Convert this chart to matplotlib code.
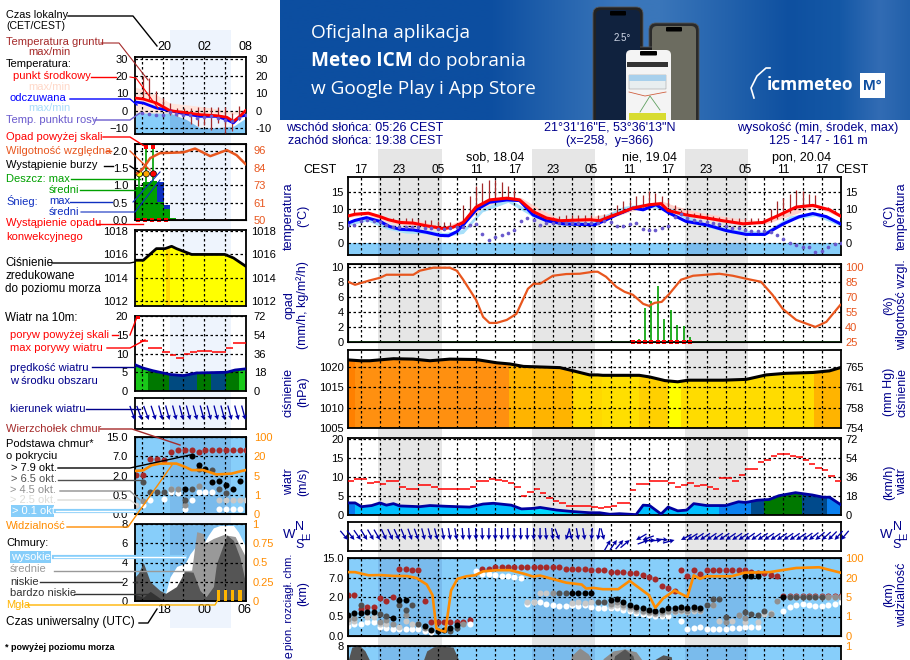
import numpy as np
import matplotlib
matplotlib.use("Agg")
import matplotlib.pyplot as plt
from matplotlib.lines import Line2D
from matplotlib.patches import Rectangle, FancyBboxPatch

plt.rcParams['font.family'] = ['Liberation Sans', 'DejaVu Sans']
plt.rcParams['font.size'] = 8
plt.rcParams['ytick.labelsize'] = 8

W, H = 910, 660
NAVY = '#00008b'
BROWN = '#a52a2a'
SKY = '#87cefa'
ORANGE = '#ff8c00'
RH_COL = '#e8561e'
DEW = '#6a5acd'
GREEN = '#00a000'

# ---- main meteogram data (hours counted from friday 00:00 CEST) ----
red_h = [15,16.1,18.2,20,21.3,23.1,25.2,27.3,29.9,31.4,33,35,37.1,39.8,41.8,43.9,46,48.1,52.75,54.3,55.9,57.4,59.5,62.1,63.9,65,67.8,71,73.5,76.7,79.8,82.4,85,87.6,90.2,91.9]
red_t = [8,8.5,8.8,7.8,6.9,6.1,5.9,5.1,4.3,4.7,6.1,10.6,12.7,13.2,12.7,9.3,7.4,6.6,6.9,6.6,7.8,8.8,10.3,11.3,11.6,9.6,8.3,7.4,6.6,5.7,6.1,8.3,10.6,11.1,9.8,8]
blue_h = [15,16.1,17.9,20,21.5,23.1,25.2,27.3,29.4,30.7,32,33,35,37.1,39.8,41.8,43.9,46,48.6,53.5,54.8,56.9,59.5,61.1,63.1,65,67.8,71,74.1,77.2,80.1,82.9,85.5,87.6,89.7,91.9]
blue_t = [5.9,6.7,7.5,6.4,4.9,4.1,3.9,3.2,2.3,2.2,3.4,5.4,9.8,12,12.7,12.5,8.3,6.6,5.7,5.4,6.4,8.3,10.3,9.8,11.3,9,6.4,5.4,3.7,2.6,2.6,5.6,7.8,8.7,7.8,5.7]
pink_h = [15,18,22,26,30,33,36,39,42,45,48,53,56,60,64,66,70,76,80,84,88,92]
pink_hi = [8.6,9.4,7,6.6,4.9,7,11.4,13.8,13.4,10,7.2,7.8,8.8,11,12.4,11,9,7.2,6.5,9.6,11.6,8.6]
pink_lo = [7.6,8.3,5.7,5.2,3.9,5.7,10.2,12.8,12.2,8.8,6.2,5.6,7.4,9.8,10.9,9.2,7.8,6.1,5.6,8,10.6,7.6]
lblue_h = [15,18,21,24,27,30,33,36,40,44,48,53,58,62,66,70,75,80,84,88,92]
lblue_lo = [5.2,6.6,4.2,3,2.8,1.9,2.9,9.2,12,7.6,5.3,5.2,9.6,10.6,8.8,5.2,2.9,2.2,6.8,8,5]
dew_t = [5.4,5.4,6.4,6.7,6.4,6.1,5.4,4.9,4.9,4.9,4.9,4.7,4.6,4.4,4.1,4.1,4.4,4.7,4.9,5.4,5.7,2.7,.9,1.8,2.5,2.9,3.8,6.4,7.4,6.9,5.4,5.9,5.9,5.9,5.9,5.9,5.9,5.9,5.9,
         5.9,6.4,6.2,5.2,5.2,5.7,5.9,4.3,4,3.9,4.4,5.1,7.6,8.6,7.4,6.9,6.4,6.1,5.9,5.7,5.1,4.6,4.4,3.9,3.6,3.6,3.6,3.3,2.5,1.2,.2,-.5,-1.1,-1.1,-2.5,-2.4,-1.1,-.3,0]
ground_h = np.r_[16,17,20,22:33, 33:92]
ground_hi = [10,9.3,7.8,7.4,7.2,7.3,7.3,7,6.7,6.7,6.4,6.2,6.1,5.9,
             11.3,13.7,16.9,17.6,18.6,18.6,17.9,16.9,15.7,12.7,10.8,9.3,8.3,7.8,7.8,8,8.3,8.3,8.3,8.3,8.3,
             8.3,8.5,9.3,11.3,12.5,12.7,13.9,14.2,15.2,14.7,13.9,12.9,11.3,9.8,9.6,9,8.8,8.3,8.1,7.8,7.6,7.5,7.5,7.4,7.4,7.4,7.4,10,12.3,13.2,14.5,15.5,15.4,14.5,14.2,11,10.6,9.6]
ground_lo = [8.5,8.7,7.5,6.5,6,6,6,5.9,5.5,5.4,5.2,5,4.8,4.6,
             6.2,8,10,11.5,12.3,12.8,13,13,12.8,12.2,10.5,9,8.2,7.5,7,6.8,6.6,6.6,6.6,6.6,6.6,
             6.6,6.6,7.6,8.2,9,9.6,10.2,10.6,11,11.5,11.6,10.5,9.6,9.2,8.8,8.4,8,7.6,7.4,7.2,6.8,6.4,6.2,5.9,5.8,5.8,5.8,6.2,7,8,9,10,10.6,10.8,11,10.8,10,9.2]

rh_h = [15,16.1,18.2,20,21,23.1,25.2,26.2,28.3,30.9,32,33,35,36.1,37.1,38.2,39.8,41.3,43.1,44,45,47,49.1,51.2,53.3,54,55.3,56.9,58.2,59.5,61.1,62,62.9,64,65.2,67,68.9,73,75.1,77.2,79.5,81.3,82.9,85,88,89.7,91.9]
rh = [85,82,86,89,92,92,92,96,99,99,96,87,67,50,44,44,47,53,78,83,83,91,92.7,93,95,95,90,80,75,72,63,61,64,65,73,87,91,93,91,88,85,72,58,47,40,45,62]
rain_h = [60.45,61.43,62.4,63.4,64.35,65.4,66.4,67.5,68.4]
rain = [.44,4.5,5.5,7.4,3.1,4.3,2.2,2.1,.6]
conv_h = [59.5,60.45,61.43,62.4,63.4,64.35,65.4,66.4,67.5,68.4]

pres_h = [15,16.9,18.4,22.1,25.2,27.8,30.9,35,38.2,40.3,42.4,48.1,50.2,52.75,54,54.8,60.5,62.1,64.5,66.5,68.1,73.6,77.2,80.3,83.4,87.6,90.2,91.9]
pres = [1021.8,1021.6,1021.6,1022.1,1022,1021.6,1022,1021.9,1021.1,1020.8,1020.2,1019.9,1019.1,1018.1,1018.1,1018,1018,1017.6,1016.7,1016.4,1016.8,1016.8,1017,1018.1,1018.5,1018.7,1019.1,1019.9]
pres_edges = [15,16.1,40.1,50.2,54.7,60.5,64.95,67,87.85,92]
pres_cols = ['#ff8000','#ff9010','#ffb400','#ffd800','#ffdf00','#ffd000','#ffff00','#ffdc00','#ffb400']

wind_h = [15,16.1,17.1,18.7,20,21,22.1,23.1,26.2,27.8,30.4,34,36.1,37.7,40.5,42.1,43.9,45,47.6,50.2,52.75,54.3,55.9,57.4,60,61.1,62.1,63.9,65,66.5,67.9,69,71,74,76,77.1,78.9,80.8,82.3,84.9,87.5,89.2,90.2,91.9]
wind = [3.2,3.2,2.2,2.5,3.2,2.6,3,2.4,2.2,2.5,2.3,2.1,2.9,3.1,2.6,1.6,1.75,2,1.3,.9,.6,.6,.2,.35,.1,2.6,2.5,.25,2.1,1.1,1.3,3,2.5,2.5,3.5,3.3,3.9,4.1,5.1,5.9,5.3,4.7,4.7,2.8]
wind_edges = [15,16.1,41.8,60.55,73,77.9,79.9,85.9,89.85,92]
wind_cols = ['#0a78f0','#00bfff','#00d8ff','#00bfff','#0a80f0','#004a8c','#007800','#004a8c','#0a80f0']
gust = [9,9.6,9.4,8.4,8.6,8.1,8.9,8.9,7.3,7,7,7.8,7.8,7.3,7,7,7,7,6.8,7.4,9.1,9.1,9.4,9.2,8.9,8.4,7.5,4.9,6,7,5.7,4.4,3.6,3.3,2.5,2.5,2.5,2.3,2.2,1.8,2,2.5,3.1,3.1,6.5,8.1,8.1,8.9,8.9,9.1,8.4,7.3,7.8,8.4,7.6,7.8,7.5,7,9.9,9.9,8.9,10.5,12.2,12.2,14.1,14.6,15.5,16,16,15.7,15.4,14.6,13.6,12.5,12,10.4,8.9]
wind_dir = [320,322,325,328,330,330,335,335,335,338,340,340,345,345,345,350,350,350,355,355,358,358,0,0,0,358,358,358,0,0,0,355,355,340,20,345,350,350,5,10,345,210,215,220,230,60,70,250,265,265,275,255,62,58,56,56,56,56,56,56,56,56,55,55,56,56,56,56,56,56,56,55,52,50,48,45,42,40]

# cloud base (km) and visibility (km), hourly dots
top_h = np.r_[15:28, 28:35, 36:93]
top_km = [2.5,2.4,1.1,1.25,1.25,1.9,1.7,2,10.6,10.6,10.1,10.1,1.7,.36,.36,.36,.36,.36,.36,.4,
          10.6,10.6,11.3,11.3,11.3,11.3,11.3,11.3,11.3,11.3,11.3,11.3,11.3,10.6,10.6,10.6,10.6,10.1,10.1,10.1,
          9.2,9.2,9.2,9,8.8,8.2,7.4,6.5,4.8,4.2,3.65,9.9,7.6,9.9,8.4,9.9,9.9,9.9,9.9,9.9,9.9,9.9,9.4,9,8.8,8,7.6,2.2,2.2,2.2,2.2,2.2,2.2,2.2,2.2,2.2,2.2]
white_h = np.r_[15:29, 34:66, 67:80, 83:93]
white_km = [.26,.31,.31,.37,.35,.24,.2,.18,.18,.18,.18,.18,.14,.11,
            .32,9.6,8.4,8.3,7.9,7.6,7.6,7.1,6.8,1.5,1.58,1.58,1.5,1.42,1.27,1.27,1.37,1.27,1.37,1.25,1.12,1.12,1.12,1.16,1,.92,.74,.67,.6,.55,.53,.53,
            .38,.18,.2,.24,.18,.18,.18,.18,.2,.21,.23,.22,.24,
            .92,1.25,1.42,1.5,1.37,1.3,1.3,1.42,1.5,1.58]
light_h = np.r_[15,16,18,19,20,21,23,24,25,26,43,44,45,46,50,51,52,53,56:71,72,73,75,77,79,80,81,84:92]
light_km = [.35,.38,.5,.5,.31,.32,.24,.38,.32,.32,1.6,1.65,3,3,1.55,1.6,1.55,1.6,1.3,1.4,1.25,1.1,.95,.85,.75,.7,.7,.85,.85,.9,.85,.95,.9,1.4,.38,.38,.35,.37,.67,.8,2.05,2.05,2.05,2.05,2.05,2.05,2.05,2.05]
grey_h = np.r_[15,16,20,21,22,24,27,33,47,56:71,72,74,76,77,81,82,90,91,92]
grey_km = [.43,.45,.37,.41,.32,.6,.2,.32,3,1.5,1.6,1.35,1.2,1.08,.95,.84,.8,.84,.95,.95,1,.95,1.08,1,1.4,.37,.6,.45,.7,1.7,2.05,2.05,2.05]
dark_h = np.r_[17,20,21,23,24,25,26,31,32,48,49,54,55,71,72,73,74,77,78,79,80,84:90]
dark_km = [1.35,.7,.55,1.37,1,1.4,.32,.14,.2,3,3,1.58,1.63,1.4,1.85,1.85,.5,.81,.67,.6,.92,2.1,2.1,2.1,2.1,2.1,2.1]
black_h = np.r_[15:20, 22,23,24, 27:33, 50:54, 56:71, 77,78,79, 83]
black_km = [.6,.74,.74,.86,.86,.47,1.8,1.8,.26,.15,.14,.15,.2,.28,3,3,3,3,1.76,1.88,1.58,1.37,1.25,1.12,1,.95,1,1.12,1.12,1.2,1.12,1.25,1.16,7.5,7.5,7.5,2.1]
vis_h = [15,16.1,18.2,20,22.1,24.2,25.7,27.3,28.2,28.8,29.6,30.2,31.1,32.1,33.5,34.8,36.1,38.2,40.3,42.4,43.9,45,47.6,49.1,51.5,52.2,53.3,54.8,57.2,59,62,63,64.2,66,68,69,70,71,74.9,77,80.8,85,88.6,91.9]
vis = [42,42,29,30,26.5,26,19.6,14.6,6.4,.39,.27,.22,10,19,25,29,45,50,50,36,24,28,18,16,14.6,11.5,12,11,11,17.4,6.4,2.8,4.7,10,5,29,19,25,25,40,42,59,62,40]

cl_dark_h = [15,15.6,16.9,17.65,18.4,19.2,22.1,23.1,24.2,26.2,27.3,28.3,29.4,31.4,32.2,33,48.5,55.9,56.65,58.2,59.5,60.3,62.9,64.2,65.5,66,67]
cl_dark = [6.5,7.9,8,7.5,6.5,5,5,6.6,5,5.5,7.5,7.9,8,7.9,6.7,4,0,5,7,7.7,7,5,6.6,7.1,6.9,4,0]
cl_grey_h = [48.5,49.1,49.9,51.2,52.5,53.3,54,54.85,56.4,58.2,60,61,61.6,62.5]
cl_grey = [0,4,7,7.8,7.2,6.4,4.5,6.7,7.5,7.7,7.4,6.5,4,0]

# ---- left legend chart data (example panel, 16:00 - 08:00) ----
lr_h = [16,17.2,19.1,21.07,23,25.4,27.8,29.3,30.25,31.2,32]
lr_t = [7.3,6.7,4.4,0,-1,-2.3,-2.9,-3.8,-6.2,-3.3,0]
lb_t = [5,4.4,1.5,0,-1.7,-3.3,-3.3,-5.2,-7.1,-3.3,-2.7]
lp_h = [16,19.1,21.07,25.4,30.25,32]
lp_hi = [13.7,9.2,4.4,2.5,-.4,.6]
ll_h = [16,21.07,23.5,25.4,27.8,30.25,32]
ll_lo = [-1.4,-1.4,-5.3,-10,-10,-9,-4.4]
ldew_h = np.arange(17, 33)
ldew_t = [-1.3,-1.7,-2.3,-2.7,-1,-1.7,-2.3,-2.3,-4.2,-3.7,-3.3,-4.2,-5.6,-6.2,-4.2,-2.3]
lground_h = [17.1,18.05,19,20.1,21.07,22.1,23.1,24.1,25.1,26,27,28,29,30,31]
lground_hi = [20.2,18.8,11.2,7.3,4.4,1.5,1.5,1.5,2.1,2.1,2.1,2.1,2.1,-1.3,2.9]
lground_lo = [6.7,6.3,4.4,.6,-2.3,-3.3,-2.3,-7.5,-8.7,-8.1,-11,-7.1,-12.9,-11.9,-5.2]
lrh_h = [16.34,17.2,18.2,19.6,23,24.7,26.9,29.3,30.7,32]
lrh = [80.7,84,90.7,94,94.5,97,92,96,92.7,86.8]
lrain_h = [16,17.2,18.2,19.2,20.2,21.1]
lrain_w = [1.2,1,1,1,.9,.9]
lrain = [.95,1.1,1.13,.53,.33,.07]
lsnow = [0,0,0,.56,.1,0]
lmax_h = [16.63,17.64,18.66]
lmax = [1.3,2.1,2.1]
lmax_lo = [.95,1.1,1.13]
lstorm_cols = ['#ffff00','#ffa500','#ff0000']
lstorm = [1.33,1.33,1.33]
lover_h = [17.64,18.66]
lover = [2.1,2.1]
lconv_h = [16.5,17.5,18.5,19.5,20.5]
lpres_h = [16,17.2,19.1,20.35,21.3,22,24.2,29,30.25,32]
lpres = [1015.5,1015.5,1016.5,1016.5,1016.7,1016.5,1016,1016,1015.7,1015]
lpres_edges = [16,20.44,21.07,32]
lpres_cols = ['#ffff00','#ffd800','#ffff00']
lwind_h = [16,17.2,18.6,21.07,23,24.9,29.3,30.5,32]
lwind = [7,6.1,5.4,4.4,4.1,4.8,5,5.6,5.9]
lwind_edges = [16,17.93,20.93,25,27,29.15,31.07,32]
lwind_cols = ['#19c819','#007800','#004a80','#007800','#004a80','#007800','#19c819']
lgust_x0 = [16.7,17.93,19.86,21.07,21.93,23.14,23.97,24.94,27.1,29.15,30.16]
lgust_x1 = [17.93,19.86,21.07,21.93,23.14,23.97,24.94,27.1,29.15,30.16,32]
lgust = [13.4,11.6,10.5,9.6,8.8,9.8,10.5,10.8,10.5,11.6,12.9]
ldir_h = np.arange(16, 33)
ldir = [340,340,340,342,345,345,345,345,345,345,345,345,345,345,345,345,345]
ltop_h = np.r_[16.2,17.2,18.2,19.2,20.2,21.2,22.2,23.2,24.2,25.2,26.2,27.2,28.2,29.2,30.2,31.2,32]
ltop = [2.1,2.1,6.3,6.3,6,8.8,9.7,9.7,9.7,8.8,9.7,9.7,9.7,9.7,9.7,9.7,9.7]
lwhite_h = [17.2,18.2,20.2,21.2,22.2,23.2,24.2,25.2,26.2,27.2,28.2,29.2,30.2,31.2]
lwhite = [.23,.36,.39,.68,.6,.13,.36,.68,.73,.73,.13,.13,.13,.13]
llight_h = [16.2,21.2,28.2,29.2,30.2,31.2,32]
llight = [.23,.92,.36,.36,.36,.36,.36]
lgrey_h = [17.2,21.2,22.2,23.2,25.2]
lgrey = [.35,.92,.92,.23,1.2]
ldark_h = [17.2,18.2,19.2,20.2,23.2,24.2,25.2,27.2,28.2,29.2]
ldark = [1.5,.68,.68,.68,.36,.92,3.8,3.4,.92,.6]
lblack_h = [23.2,24.2,25.2,26.2,27.2,28.2,29.2,30.2,31.2]
lblack = [.92,7,4.85,3.8,1.5,1.55,1.25,.92,1.55]
lvis_h = [16,17.2,18.4,19.6,22,23.25,24.2,25.9,27.8,30,31,32]
lvis = [8.6,9,13,14.3,14.3,11.7,9.2,9.2,5.8,6.5,7.9,9.2]
lc_white_h = [16,20.44,21.07,22.04,23.25,23.97,24.94,25.9,26.63,27.35,28.3,30.25,30.98,31.7,32]
lc_white = [0,.8,2.5,3.6,3.9,4.9,5.8,5.95,6.85,7.6,7.85,7.85,7.15,6.1,5.6]
lc_grey_h = [21.6,23.1,24.2,24.94,25.9,26.14,27.35,28.8,30.5,32]
lc_grey = [0,3.1,3.2,7.2,7,6,6.5,6.9,6.7,4.6]
lc_low_h = [16,16.5,17.2,18.2,19.6,20.44,22,23.25,24.4,25.4,26.3,27.35,27.8,29.3,30.25,31.2,32]
lc_low = [2.5,2.9,4,2,1.1,.8,1.5,3.1,3,1.1,.45,1.5,3.9,6.85,6.3,4.5,1.9]
lc_vlow_h = [16,17.2,18.2,19.6,20.35]
lc_vlow = [.7,.4,1,.3,0]
lfog_h = [28.08,29.1,30.1,31.2]
lfog = [1.14,1.14,1.14,1.14]

# ---- helpers, everything is placed in pixels of the final image ----
fig = plt.figure(figsize=(W/100, H/100), dpi=100, facecolor='white')

def panel(x0, y0, x1, y1, xlim, ylim):
    ax = fig.add_axes([x0/W, 1-y1/H, (x1-x0)/W, (y1-y0)/H])
    ax.patch.set_visible(False)
    ax.set_xlim(*xlim)
    ax.set_ylim(*ylim)
    for s in ax.spines.values():
        s.set_linewidth(1.3)
    ax.set_axisbelow(False)
    ax.tick_params(length=0, labelbottom=False, labelleft=False)
    return ax

def grid(ax, xt, yt, pad=3, ylab=None):
    ax.set_xticks(xt)
    ax.set_yticks(yt)
    ax.grid(True, color='k', ls=(0, (2, 2)), lw=0.9)
    ax.tick_params(axis='y', labelleft=True, pad=pad)
    if ylab is not None:
        ax.set_yticklabels(ylab)

def right(ax, ticks, labels, color='k', pad=3, fs=8):
    rax = ax.twinx()
    rax.set_ylim(ax.get_ylim())
    rax.set_yticks(ticks)
    rax.set_yticklabels(labels, color=color, fontsize=fs)
    rax.tick_params(length=0, pad=pad)
    rax.spines[:].set_visible(False)
    return rax

def strips(ax, poly, edges, cols):
    path = poly.get_paths()[0]
    for a, b, c in zip(edges[:-1], edges[1:], cols):
        sp = ax.axvspan(a, b, color=c, lw=0, zorder=1)
        sp.set_clip_path(path, poly.get_transform())

def dots(ax, x, y, col, s=19):
    ax.scatter(x, y, s=s, color=col, lw=0, zorder=4)

def txt(x, y, s, col='k', ha='left', size=9, rot=0, **kw):
    return fig.text(x/W, 1-y/H, s, color=col, ha=ha, va='center', fontsize=size, rotation=rot, **kw)

def ltxt(x, y, s, col='k', size=8, **kw):
    return txt(x, y, s, col, size=size, **kw)

def leader(pts, col='k', lw=1):
    xs = [p[0]/W for p in pts]
    ys = [1-p[1]/H for p in pts]
    fig.add_artist(Line2D(xs, ys, color=col, lw=lw, transform=fig.transFigure, zorder=5))

def km_scale(ax, ticks):
    lev = [0, 1, 2, 3, 4]
    ax.set_yscale('function', functions=(lambda v: np.interp(v, ticks, lev),
                                         lambda v: np.interp(v, lev, ticks)))
    ax.set_ylim(ticks[0], ticks[-1])

def wind_arrows(ax, x, d, y, scale=12):
    d = np.radians(d)
    ax.quiver(x, np.full(len(x), y), -np.sin(d), -np.cos(d), pivot='tip', angles='uv',
              units='dots', scale_units='dots', scale=1/scale, width=1.3,
              headwidth=3.8, headlength=3.8, headaxislength=3.4, color='#0000a8', zorder=4, clip_on=False)

# ---- banner ----
ban = fig.add_axes([280/W, 1-120/H, 630/W, 120/H])
ban.axis('off')
gx = np.arange(280, 911)
stops = [280, 490, 620, 660, 790, 840, 880, 910]
rr = np.interp(gx, stops, [12, 12, 58, 58, 14, 20, 50, 34])
gg = np.interp(gx, stops, [78, 78, 118, 118, 80, 88, 108, 96])
bb = np.interp(gx, stops, [160, 160, 186, 186, 160, 166, 180, 170])
grad = np.dstack([rr, gg, bb]) / 255
ban.imshow(grad, extent=(280, 910, 120, 0), aspect='auto', zorder=0)
ban.set_xlim(280, 910)
ban.set_ylim(120, 0)
for px0, py0, px1, body, screen in [(593, 7, 643, '#222222', '#10223e'), (649, 23, 699, '#2a2a2a', '#6c6c60'), (623, 47, 674, '#1c1c1c', '#f4f4f4')]:
    ban.add_patch(FancyBboxPatch((px0+3, py0+3), px1-px0-6, 130, boxstyle='round,pad=3,rounding_size=7', fc=body, ec='#555555', lw=0.6, zorder=2))
    ban.add_patch(FancyBboxPatch((px0+4, py0+4), px1-px0-8, 130, boxstyle='round,pad=1,rounding_size=5', fc=screen, ec='none', zorder=3))
    ban.add_patch(FancyBboxPatch((px0+18, py0+5), px1-px0-36, 2.5, boxstyle='round,pad=1', fc='k', ec='none', zorder=4))
ban.add_patch(Rectangle((627, 62), 41, 5, fc='#333333', ec='none', zorder=4))
ban.add_patch(Rectangle((629, 75), 37, 14, fc='#e8eef0', ec='#888888', lw=0.3, zorder=4))
ban.add_patch(Rectangle((629, 75), 37, 6, fc='#a8d0ec', ec='none', zorder=4))
ban.add_patch(Rectangle((629, 113), 37, 7, fc='#d8dc30', ec='none', zorder=4))
ban.plot([629, 645, 666], [92, 96, 92], color='#d06040', lw=0.6, zorder=5)
ban.plot([640, 650, 660], [112, 96, 110], color='#60a060', lw=0.6, zorder=5)
ban.text(622, 38, '2.5°', color='#d0d8e8', fontsize=7, zorder=5, ha='center', va='center')
ban.text(311, 33, 'Oficjalna aplikacja', color='white', fontsize=13.7, family='Open Sans', va='center')
ban.text(311, 61.5, 'Meteo ICM', color='white', fontsize=13.7, family='Open Sans', fontweight='bold', va='center')
ban.text(418, 61.5, 'do pobrania', color='white', fontsize=13.7, family='Open Sans', va='center')
ban.text(311, 89.5, 'w Google Play i App Store', color='white', fontsize=13.7, family='Open Sans', va='center')
ban.text(767, 85, 'icmmeteo', color='white', fontsize=12.4, family='Open Sans', fontweight='bold', va='center')
ban.add_patch(Rectangle((860, 73), 25, 25, fc='white', ec='none', zorder=4))
ban.text(872.5, 86, 'M°', color='#0d4ea0', fontsize=11, fontweight='bold', ha='center', va='center', zorder=5)
ban.plot([754, 751, 757, 766, 770], [98, 88, 76, 68, 68], color='white', lw=1.2, zorder=4)

# ---- night bands behind the panels ----
MAIN_BANDS = [(378, 442), (532, 595), (685, 748)]
for a, b in MAIN_BANDS:
    fig.add_artist(Rectangle((a/W, 0), (b-a)/W, 1-149/H, fc='#e6e6e6', ec='none', transform=fig.transFigure, zorder=-1))
fig.add_artist(Rectangle((170/W, 1-628/H), 61/W, 598/H, fc='#eef4fd', ec='none', transform=fig.transFigure, zorder=-1))

def night_main(ax, ymax=1):
    for a, b in MAIN_BANDS:
        ax.axvspan(15+(a-348)/6.41, 15+(b-348)/6.41, ymax=ymax, color='#000060', alpha=0.09, lw=0, zorder=1.5)

def night_left(ax, clip=None):
    sp = ax.axvspan(21.07, 29.9, color='#000060', alpha=0.09, lw=0, zorder=1.5)
    if clip is not None:
        sp.set_clip_path(clip.get_paths()[0], clip.get_transform())

# ---- main panels ----
XM = (15, 92)
GM = np.arange(17, 92, 3)
HL = [f'{h % 24:02d}' if (h - 17) % 6 == 0 else '' for h in GM]

ax = panel(348, 177, 841, 255, XM, (-3.43, 19.4))
grid(ax, GM, [0, 5, 10, 15])
ax.tick_params(axis='x', labeltop=True, pad=0.5, labelsize=8.6)
ax.set_xticklabels(HL)
ax.axhspan(-3.43, 0, color=SKY, lw=0, zorder=1)
night_main(ax, ymax=3.43/22.83)
ax.fill_between(pink_h, pink_lo, pink_hi, color='#ffd2cc', lw=0, zorder=1.8)
ax.fill_between(lblue_h, lblue_lo, np.array(lblue_lo)+1.2, color='#a8e0fa', lw=0, zorder=1.9)
ax.vlines(ground_h, ground_lo, ground_hi, color=BROWN, lw=0.9, zorder=3)
ax.plot(blue_h, blue_t, color='#0000ff', lw=2.2, zorder=3.2)
ax.plot(red_h, red_t, color='#ff0000', lw=2.2, zorder=3.3)
dots(ax, np.arange(15, 15+len(dew_t)), dew_t, DEW, s=7)
right(ax, [0, 5, 10, 15], ['0', '5', '10', '15'])

ax = panel(348, 264, 841, 342, XM, (0, 10.35))
grid(ax, GM, [0, 2, 4, 6, 8, 10])
ax.vlines(rain_h, 0, rain, color=GREEN, lw=1.2, zorder=3)
ax.axhline(0, color=GREEN, lw=1, zorder=3)
ax.scatter(conv_h, np.zeros(len(conv_h)), marker='s', s=7, color='#ff0000', lw=0, zorder=4, clip_on=False)
rax = ax.twinx()
rax.set_ylim(25, 102.7)
rax.set_yticks([25, 40, 55, 70, 85, 100])
rax.tick_params(length=0, pad=3, labelcolor=RH_COL)
rax.plot(rh_h, rh, color=RH_COL, lw=1.6, zorder=3)

ax = panel(348, 350, 841, 428, XM, (1005, 1024.25))
grid(ax, GM, [1005, 1010, 1015, 1020])
poly = ax.fill_between(pres_h, 1005, pres, color='none', lw=0)
strips(ax, poly, pres_edges, pres_cols)
ax.plot(pres_h, pres, color='k', lw=2.2, zorder=3)
right(ax, [1005, 1010, 1015, 1020], ['754', '758', '761', '765'])

ax = panel(348, 438, 841, 515, XM, (0, 20.35))
grid(ax, GM, [0, 5, 10, 15, 20])
poly = ax.fill_between(wind_h, 0, wind, color='none', lw=0)
strips(ax, poly, wind_edges, wind_cols)
ax.plot(wind_h, wind, color='#0000a0', lw=2, zorder=3)
gh = np.arange(15, 15+len(gust))
ax.hlines(gust, gh, gh+1, color='#ff0000', lw=1.1, zorder=3)
right(ax, [0, 5, 10, 15, 20], ['0', '18', '36', '54', '72'])

ax = panel(348, 522, 841, 551, XM, (0, 1))
ax.set_xticks(GM)
ax.set_yticks([])
ax.grid(True, axis='x', color='k', ls=(0, (2, 2)), lw=0.9)
wind_arrows(ax, np.arange(15, 15+len(wind_dir)), wind_dir, 0.38)

ax = panel(348, 558, 841, 636, XM, (0, 15))
km_scale(ax, [0, .5, 2, 7, 15])
grid(ax, GM, [0, .5, 2, 7, 15], ylab=['0.0', '0.5', '2.0', '7.0', '15.0'])
ax.axhspan(0, 15, color=SKY, lw=0, zorder=1)
night_main(ax)
dots(ax, top_h, top_km, BROWN)
dots(ax, white_h, white_km, 'white')
dots(ax, light_h, light_km, '#c8c8c8')
dots(ax, grey_h, grey_km, '#909090')
dots(ax, dark_h, dark_km, '#505050')
dots(ax, black_h, black_km, 'k')
rax = ax.twinx()
km_scale(rax, [0, 1, 5, 20, 100])
rax.set_yticks([0, 1, 5, 20, 100])
rax.set_yticklabels(['0', '1', '5', '20', '100'], color=ORANGE, fontsize=8)
rax.tick_params(length=0, pad=3)
rax.plot(vis_h, vis, color=ORANGE, lw=1.9, zorder=5)

ax = panel(348, 646, 841, 724, XM, (0, 8))
grid(ax, GM, [8], ylab=['8'])
ax.axhspan(0, 8, color=SKY, lw=0, zorder=1)
night_main(ax)
ax.fill_between(cl_grey_h, 0, cl_grey, color='#8c8c8c', lw=0, zorder=1.7)
ax.fill_between(cl_dark_h, 0, cl_dark, color='#555555', lw=0, zorder=1.8)
right(ax, [8], ['1'], color=ORANGE)

# ---- left legend panels ----
XL = (16, 32)
GL = [17, 20, 23, 26, 29]

ax = panel(135, 57, 245.5, 134, XL, (-13.5, 31))
grid(ax, GL, [-10, 0, 10, 20, 30], pad=5)
sky_poly = ax.fill_between(ll_h, -13.5, ll_lo, color=SKY, lw=0, zorder=1.2)
ax.fill_between(lp_h, lp_hi, -2, color='#ffe4dc', lw=0, zorder=1.1)
night_left(ax, sky_poly)
ax.vlines(lground_h, lground_lo, lground_hi, color=BROWN, lw=0.9, zorder=3)
ax.plot(lr_h, lb_t, color='#0000ff', lw=2, zorder=3.2)
ax.plot(lr_h, lr_t, color='#ff0000', lw=2, zorder=3.3)
dots(ax, ldew_h, ldew_t, DEW, s=7)
right(ax, [-10, 0, 10, 20, 30], ['-10', '0', '10', '20', '30'], pad=7)

ax = panel(135, 144, 245.5, 220, XL, (0, 2.19))
grid(ax, GL, [0, .5, 1, 1.5, 2], pad=5, ylab=['0.0', '0.5', '1.0', '1.5', '2.0'])
ax.bar(lrain_h, lrain, width=lrain_w, align='edge', color=GREEN, lw=0, zorder=1)
ax.bar(lrain_h, lsnow, width=lrain_w, bottom=lrain, align='edge', color='#1030c0', lw=0, zorder=1)
ax.vlines(lmax_h, lmax_lo, lmax, color=GREEN, lw=1.2, zorder=3)
ax.scatter(lmax_h, lstorm, s=20, c=lstorm_cols, edgecolors='k', lw=0.5, zorder=5)
ax.scatter(lover_h, lover, marker='s', s=8, color='#ff0000', lw=0, zorder=5)
ax.scatter(lconv_h, np.zeros(5), marker='s', s=5, color='#ff0000', lw=0, zorder=5, clip_on=False)
rax = ax.twinx()
rax.set_ylim(50, 100)
rax.set_yticks([50, 61, 73, 84, 96])
rax.tick_params(length=0, pad=6, labelcolor=RH_COL)
rax.plot(lrh_h, lrh, color=RH_COL, lw=1.8, zorder=3)

ax = panel(135, 230, 245.5, 306, XL, (1011.57, 1018.1))
grid(ax, GL, [1012, 1014, 1016, 1018], pad=5)
poly = ax.fill_between(lpres_h, 1011.57, lpres, color='none', lw=0)
strips(ax, poly, lpres_edges, lpres_cols)
ax.plot(lpres_h, lpres, color='k', lw=2, zorder=3)
right(ax, [1012, 1014, 1016, 1018], ['1012', '1014', '1016', '1018'], pad=4)

ax = panel(135, 316, 245.5, 391, XL, (0, 20))
grid(ax, GL, [0, 5, 10, 15, 20], pad=5)
poly = ax.fill_between(lwind_h, 0, lwind, color='none', lw=0)
strips(ax, poly, lwind_edges, lwind_cols)
ax.plot(lwind_h, lwind, color='#0000a0', lw=2, zorder=3)
ax.hlines(lgust, lgust_x0, lgust_x1, color='#ff0000', lw=1.1, zorder=3)
ax.scatter([16.5], [19.8], marker='s', s=8, color='#ff0000', lw=0, zorder=5)
right(ax, [0, 5, 10, 15, 20], ['0', '18', '36', '54', '72'], pad=6)

ax = panel(135, 398, 245.5, 429, XL, (0, 1))
ax.set_xticks(GL)
ax.set_yticks([])
ax.grid(True, axis='x', color='k', ls=(0, (2, 2)), lw=0.9)
wind_arrows(ax, ldir_h, ldir, 0.29, scale=15)

ax = panel(135, 437, 245.5, 514, XL, (0, 15))
km_scale(ax, [0, .5, 2, 7, 15])
grid(ax, GL, [0, .5, 2, 7, 15], pad=5, ylab=['0.0', '0.5', '2.0', '7.0', '15.0'])
ax.axhspan(0, 15, color=SKY, lw=0, zorder=1)
night_left(ax)
dots(ax, ltop_h, ltop, BROWN)
dots(ax, lwhite_h, lwhite, 'white')
dots(ax, llight_h, llight, '#c8c8c8')
dots(ax, lgrey_h, lgrey, '#909090')
dots(ax, ldark_h, ldark, '#505050')
dots(ax, lblack_h, lblack, 'k')
rax = ax.twinx()
km_scale(rax, [0, 1, 5, 20, 100])
rax.set_yticks([0, 1, 5, 20, 100])
rax.set_yticklabels(['0', '1', '5', '20', '100'], color=ORANGE, fontsize=8)
rax.tick_params(length=0, pad=6)
rax.plot(lvis_h, lvis, color=ORANGE, lw=1.9, zorder=5)

ax = panel(135, 524, 245.5, 601, XL, (0, 8))
grid(ax, GL, [0, 2, 4, 6, 8], pad=5)
ax.axhspan(0, 8, color=SKY, lw=0, zorder=1)
night_left(ax)
ax.fill_between(lc_white_h, 0, lc_white, color='white', lw=0, zorder=1.6)
ax.fill_between(lc_grey_h, 0, lc_grey, color='#999999', lw=0, zorder=1.7)
ax.fill_between(lc_low_h, 0, lc_low, color='#555555', lw=0, zorder=1.8)
ax.fill_between(lc_vlow_h, 0, lc_vlow, color='#333333', lw=0, zorder=1.9)
ax.bar(lfog_h, lfog, width=0.45, color='#ffb400', lw=0, zorder=3)
right(ax, [0, 2, 4, 6, 8], ['0', '0.25', '0.5', '0.75', '1'], color=ORANGE, pad=5)

# ---- main chart texts ----
txt(286, 128, 'wschód słońca: 05:26 CEST', NAVY)
txt(288, 141, 'zachód słońca: 19:38 CEST', NAVY)
txt(610, 128, '21°31\'16"E, 53°36\'13"N', NAVY, ha='center')
txt(610, 141, '(x=258,  y=366)', NAVY, ha='center')
txt(898, 128, 'wysokość (min, środek, max)', NAVY, ha='right')
txt(818, 141, '125 - 147 - 161 m', NAVY, ha='center')
txt(495, 158, 'sob, 18.04', 'k', ha='center')
txt(649, 158, 'nie, 19.04', 'k', ha='center')
txt(802, 158, 'pon, 20.04', 'k', ha='center')
txt(320, 170, 'CEST', ha='center')
txt(852, 170, 'CEST', ha='center')

for y, a, b, c, d in [(216, 'temperatura', '(°C)', '(°C)', 'temperatura'),
                      (305, 'opad', '(mm/h, kg/m²/h)', '(%)', 'wilgotność wzgl.'),
                      (392, 'ciśnienie', '(hPa)', '(mm Hg)', 'ciśnienie'),
                      (482, 'wiatr', '(m/s)', '(km/h)', 'wiatr')]:
    txt(289, y, a, NAVY, ha='center', rot=90)
    txt(303, y, b, NAVY, ha='center', rot=90)
    txt(889, y, c, NAVY, ha='center', rot=90)
    txt(902, y, d, NAVY, ha='center', rot=90)
txt(289, 602, 'pion. rozciągł. chm.', NAVY, ha='center', rot=90, size=8)
txt(303, 594, '(km)', NAVY, ha='center', rot=90)
txt(889, 595, '(km)', NAVY, ha='center', rot=90)
txt(902, 595, 'widzialność', NAVY, ha='center', rot=90)
fig.text(289/W, 1-650/H, 'pokrycie', color=NAVY, ha='center', va='top', rotation=90, fontsize=9)

# compass letters beside the wind direction strip
for x0 in (289, 886):
    txt(x0, 535, 'W', NAVY, ha='center', size=9.5)
    txt(x0+11, 527, 'N', NAVY, ha='center', size=9)
    txt(x0+11, 545, 'S', NAVY, ha='center', size=9)
    txt(x0+18, 536, 'E', NAVY, ha='center', size=8, rot=90)

# ---- left column texts and leader lines ----
txt(164, 47, '20', ha='center')
txt(204, 47, '02', ha='center')
txt(245, 47, '08', ha='center')
txt(164, 610, '18', ha='center')
txt(204, 610, '00', ha='center')
txt(245, 610, '06', ha='center')

ltxt(6, 15, 'Czas lokalny', size=7.8)
ltxt(6, 26, '(CET/CEST)', size=7.6)
leader([(68, 16), (133, 16), (157, 46)])
ltxt(6, 42, 'Temperatura gruntu', BROWN)
ltxt(28, 52, 'max/min', BROWN)
leader([(101, 43), (119, 43), (148, 80)], BROWN, 0.8)
ltxt(6, 64, 'Temperatura:')
ltxt(13, 76, 'punkt środkowy', '#ff0000')
leader([(91, 77), (116, 77)], '#ff0000')
leader([(130, 77), (136, 78), (158, 108)], '#ff0000', 0.8)
ltxt(28, 87, 'max/min', '#ffd8c8')
ltxt(10, 98, 'odczuwana', '#0000ff')
leader([(70, 99), (130, 99), (137, 105)], '#0000ff')
ltxt(28, 108, 'max/min', '#a8dcfa')
ltxt(6, 120, 'Temp. punktu rosy', DEW)
leader([(95, 120), (130, 120), (140, 113)], DEW)
ltxt(6, 137, 'Opad powyżej skali', '#ff0000')
leader([(103, 137), (130, 137), (146, 147)], '#ff0000')
ltxt(6, 151, 'Wilgotność względna', RH_COL)
leader([(106, 151), (111, 151)], RH_COL)
leader([(130, 151), (150, 170)], RH_COL)
ltxt(6, 165, 'Wystąpienie burzy')
leader([(104, 166), (113, 166)])
leader([(130, 166), (139, 172)])
ltxt(6, 179, 'Deszcz: max', GREEN)
leader([(71, 179), (140, 179)], GREEN)
ltxt(49, 190, 'średni', GREEN)
leader([(80, 190), (142, 190)], GREEN)
ltxt(6, 201, 'Śnieg:', '#1030c0')
ltxt(49, 201, 'max', '#1030c0')
leader([(70, 202), (112, 202)], '#1030c0')
leader([(133, 202), (160, 172)], '#1030c0', 0.8)
ltxt(49, 212, 'średni', '#1030c0')
leader([(81, 212), (135, 212), (160, 180)], '#1030c0', 0.8)
ltxt(6, 223, 'Wystąpienie opadu', '#ff0000')
ltxt(6, 237, 'konwekcyjnego', '#ff0000')
leader([(97, 224), (143, 224)], '#ff0000')
ltxt(5, 263, 'Ciśnienie', size=8.4)
ltxt(5, 276, 'zredukowane', size=8.4)
ltxt(5, 289, 'do poziomu morza', size=8.4)
leader([(52, 263), (130, 263), (135, 262)])
ltxt(5, 318, 'Wiatr na 10m:', size=8.4)
ltxt(10, 335, 'poryw powyżej skali', '#ff0000')
leader([(112, 335), (118, 335)], '#ff0000')
leader([(130, 335), (137, 317)], '#ff0000')
ltxt(10, 348, 'max porywy wiatru', '#ff0000')
leader([(107, 348), (130, 348), (145, 340)], '#ff0000')
ltxt(10, 368, 'prędkość wiatru', NAVY)
ltxt(10, 381, 'w środku obszaru', NAVY)
leader([(92, 367), (135, 367)], NAVY)
ltxt(10, 409, 'kierunek wiatru', NAVY)
leader([(86, 409), (140, 409)], NAVY)
ltxt(6, 429, 'Wierzchołek chmur', BROWN)
leader([(100, 429), (132, 429), (180, 445)], BROWN)
ltxt(6, 444, 'Podstawa chmur*')
ltxt(6, 456, 'o pokryciu')
ltxt(11, 468, '> 7.9 okt.')
leader([(58, 468), (130, 468), (190, 455)])
ltxt(11, 479, '> 6.5 okt.', '#505050')
leader([(58, 480), (143, 480)], '#505050')
ltxt(10, 490, '> 4.5 okt.', '#909090')
leader([(60, 491), (130, 491), (140, 500)], '#909090')
ltxt(10, 500, '> 2.5 okt.', '#dcdcd8')
leader([(58, 500), (130, 500), (137, 505)], '#dcdcd8')
fig.add_artist(Rectangle((11/W, 1-517/H), 43/W, 12/H, fc=SKY, ec='none', transform=fig.transFigure, zorder=1))
ltxt(12, 511, '> 0.1 okt.', 'white')
leader([(56, 511), (135, 511)], SKY, 3)
leader([(56, 511), (135, 511)], 'white', 1)
ltxt(6, 526, 'Widzialność', ORANGE)
leader([(67, 527), (128, 527), (172, 465)], ORANGE)
ltxt(6, 543, 'Chmury:')
fig.add_artist(Rectangle((10/W, 1-563/H), 41/W, 12/H, fc=SKY, ec='none', transform=fig.transFigure, zorder=1))
ltxt(11, 557, 'wysokie', 'white')
leader([(54, 557), (185, 557)], SKY, 3)
leader([(54, 557), (185, 557)], 'white', 1)
ltxt(10, 569, 'średnie', '#999999')
leader([(54, 571), (192, 571)], '#999999')
ltxt(10, 582, 'niskie', '#333333')
leader([(40, 582), (122, 582)], '#333333')
leader([(133, 582), (137, 582)], '#333333')
ltxt(10, 593, 'bardzo niskie', '#333333')
leader([(74, 594), (150, 594)], '#333333')
ltxt(6, 605, 'Mgła', '#ffb400')
leader([(27, 605), (215, 605), (219, 598)], '#ffb400')
ltxt(6, 622, 'Czas uniwersalny (UTC)', size=8.6)
leader([(139, 623), (148, 623), (157, 609)])
ltxt(5, 648, '* powyżej poziomu morza', size=6.5, fontweight='bold')

fig.savefig('out.png', dpi=100)
